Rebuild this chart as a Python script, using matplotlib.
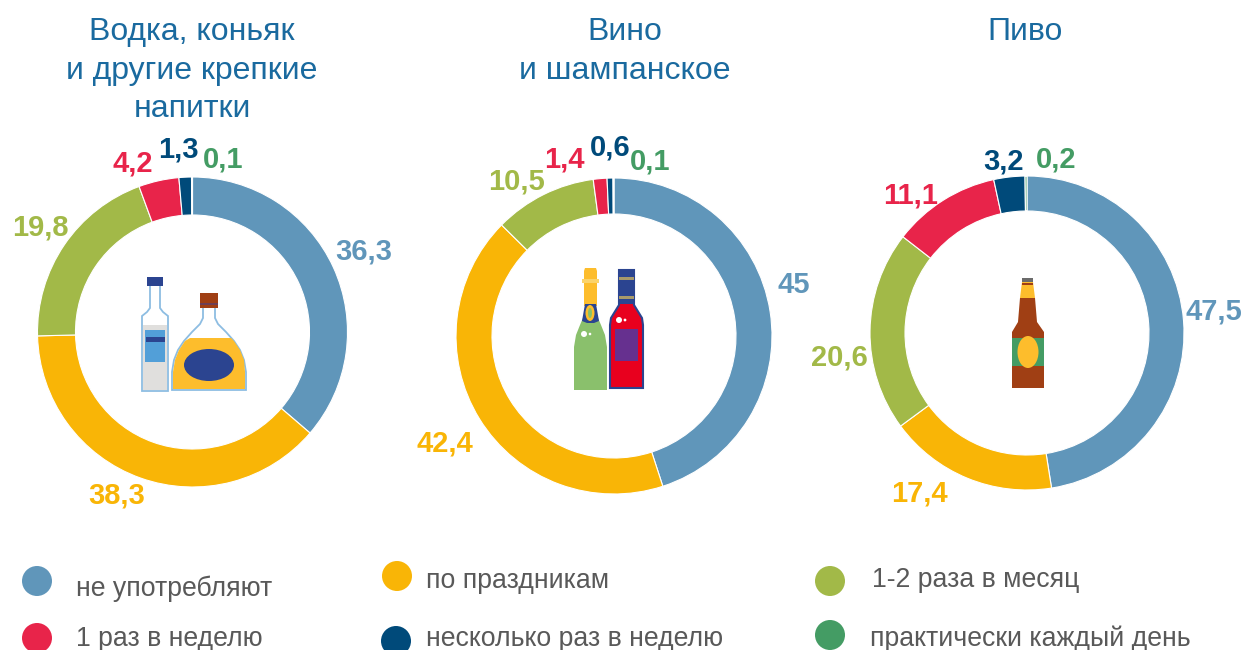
#!/usr/bin/env python3
"""Three donuts: how often people drink spirits, wine and beer."""
import matplotlib
matplotlib.use("Agg")
import matplotlib.pyplot as plt
from matplotlib.patches import Circle, Ellipse, Polygon, Rectangle

W, H = 1244, 650

categories = ["не употребляют", "по праздникам", "1-2 раза в месяц",
              "1 раз в неделю", "несколько раз в неделю", "практически каждый день"]
spirits = [36.3, 38.3, 19.8, 4.2, 1.3, 0.1]
wine = [45, 42.4, 10.5, 1.4, 0.6, 0.1]
beer = [47.5, 17.4, 20.6, 11.1, 3.2, 0.2]
spirits_labels = ["36,3", "38,3", "19,8", "4,2", "1,3", "0,1"]
wine_labels = ["45", "42,4", "10,5", "1,4", "0,6", "0,1"]
beer_labels = ["47,5", "17,4", "20,6", "11,1", "3,2", "0,2"]
titles = ["Водка, коньяк\nи другие крепкие\nнапитки", "Вино\nи шампанское", "Пиво"]

COLORS = ["#6096BA", "#F9B506", "#A2B948", "#E8244A", "#004A7A", "#449C64"]
TITLE_COLOR = "#1A6A9F"
LEGEND_TEXT = "#595959"

plt.rcParams["font.family"] = ["Liberation Sans", "DejaVu Sans"]

fig = plt.figure(figsize=(W / 100, H / 100), dpi=100, facecolor="white")


def donut(values, cx, cy, r_out, r_in):
    ax = fig.add_axes([(cx - r_out) / W, 1 - (cy + r_out) / H, 2 * r_out / W, 2 * r_out / H])
    ax.pie(values, colors=COLORS, startangle=90, counterclock=False, radius=1,
           wedgeprops={"width": (r_out - r_in) / r_out, "edgecolor": "white", "linewidth": 0.8})
    ax.set_xlim(-1, 1)
    ax.set_ylim(-1, 1)
    ax.axis("off")


donut(spirits, 192.5, 332, 155, 117)
donut(wine, 614, 336, 158, 122)
donut(beer, 1027, 333, 157, 122)

# overlay in image pixels for text, legend and the bottle icons
ov = fig.add_axes([0, 0, 1, 1], zorder=5)
ov.set_xlim(0, W)
ov.set_ylim(H, 0)
ov.axis("off")
ov.patch.set_alpha(0)

title_pos = [(192, 17), (625, 17), (1025, 17)]
for t, (x, y) in zip(titles, title_pos):
    ov.text(x, y, t, color=TITLE_COLOR, fontsize=23, ha="center", va="top", linespacing=1.38)

label_pos = [
    [(364, 252), (117, 496), (40, 227), (133, 164), (178, 149), (223, 160)],
    [(794, 285), (445, 443), (517, 182), (564, 160), (610, 148), (650, 162)],
    [(1214, 312), (919, 494), (839, 358), (911, 196), (1004, 161), (1056, 160)],
]
for labels, places in zip([spirits_labels, wine_labels, beer_labels], label_pos):
    for i, (lab, (x, y)) in enumerate(zip(labels, places)):
        ov.text(x, y, lab, color=COLORS[i], fontsize=21, fontweight="bold", ha="center", va="center")

dot_pos = [(37, 581), (397, 576), (830, 581), (37, 638), (396, 641), (830, 635)]
text_pos = [(76, 589), (426, 581), (872, 580), (76, 639), (426, 639), (870, 639)]
for i, name in enumerate(categories):
    ov.add_patch(Circle(dot_pos[i], 15, color=COLORS[i], lw=0))
    ov.text(*text_pos[i], name, color=LEGEND_TEXT, fontsize=19.2, ha="left", va="center")


def poly(pts, color, **kw):
    ov.add_patch(Polygon(pts, closed=True, facecolor=color, lw=kw.pop("lw", 0), **kw))


def rect(x0, y0, x1, y1, color):
    ov.add_patch(Rectangle((x0, y0), x1 - x0, y1 - y0, facecolor=color, lw=0))


# vodka
LINE = "#8DBDE2"
poly([(150, 285), (160, 285), (160, 308), (163, 312), (168, 316), (168, 391), (142, 391),
      (142, 316), (147, 312), (150, 308)], "white", edgecolor=LINE, lw=1.3)
rect(143, 325, 167, 390, "#E0DFDD")
rect(145, 330, 165, 362, "#529FD8")
rect(146, 337, 165, 342, "#2B4490")
rect(147, 277, 163, 286, "#2B4490")

# cognac
poly([(203, 307), (215, 307), (215, 318), (218, 324), (226, 332), (234, 341), (240, 350),
      (244, 360), (246, 372), (246, 390), (172, 390), (172, 372), (174, 360), (178, 350),
      (184, 341), (192, 332), (200, 324), (203, 318)], "white", edgecolor=LINE, lw=1.3)
poly([(190, 338), (231, 338), (234, 341), (240, 350), (244, 360), (245, 372), (245, 389),
      (173, 389), (173, 372), (175, 360), (179, 350), (185, 341)], "#FDBD2C")
ov.add_patch(Ellipse((209, 365), 50, 32, color="#2B4490", lw=0))
rect(200, 293, 218, 308, "#A03F14")
rect(200, 303, 218, 305, "#6E3F55")

# champagne
poly([(583, 318), (598, 318), (601, 325), (605, 335), (607, 347), (607, 390), (574, 390),
      (574, 347), (576, 335), (580, 325)], "#8AC06C")
poly([(585, 268), (596, 268), (597, 271), (597, 306), (584, 306), (584, 271)], "#FDBD2C")
rect(582, 279, 599, 283, "#FBD36A")
poly([(585, 304), (596, 304), (599, 321), (594, 323), (587, 323), (582, 321)], "#2B4490")
ov.add_patch(Ellipse((590, 313), 9, 16, color="#FDBD2C", lw=0))
ov.add_patch(Ellipse((590, 313), 4, 10, color="#8AC06C", lw=0))
ov.add_patch(Circle((584, 334), 3, color="white", lw=0))
ov.add_patch(Circle((590, 334), 1.3, color="white", lw=0))

# red wine
poly([(619, 270), (634, 270), (634, 305), (642, 318), (643, 325), (643, 388), (610, 388),
      (610, 325), (611, 318), (619, 305)], "#E8001E", edgecolor="#2B4490", lw=1.5)
rect(619, 270, 634, 304, "#2B4490")
rect(619, 277, 634, 280, "#A89A6B")
rect(619, 296, 634, 299, "#A89A6B")
rect(615, 329, 638, 361, "#66308F")
ov.add_patch(Circle((619, 320), 3, color="white", lw=0))
ov.add_patch(Circle((625, 320), 1.4, color="white", lw=0))

# beer
poly([(1020, 298), (1035, 298), (1037, 322), (1044, 332), (1044, 388), (1012, 388), (1012, 332), (1018, 322)], "#A03F14")
poly([(1022, 282), (1033, 282), (1035, 298), (1020, 298)], "#FDBD2C")
rect(1022, 283, 1033, 284.5, "#A03F14")
rect(1022, 278, 1033, 282, "#6B6B6B")
rect(1012, 338, 1044, 366, "#449C64")
ov.add_patch(Ellipse((1028, 352), 21, 32, color="#FDBD2C", lw=0))

fig.savefig("out.png", dpi=100, facecolor="white")
